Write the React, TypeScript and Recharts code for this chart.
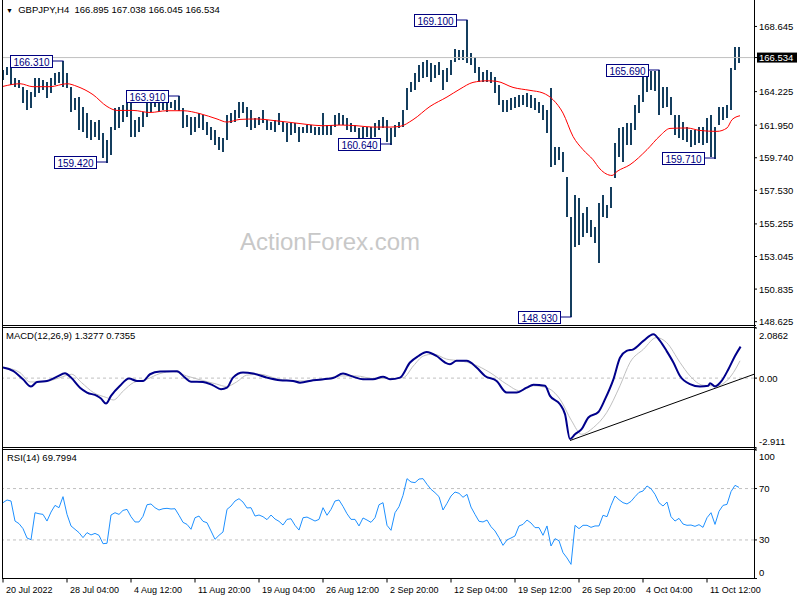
import React from 'react';
import { ComposedChart, Bar, Line, XAxis, YAxis, ReferenceLine, ReferenceDot } from 'recharts';

const FONT = "'Liberation Sans', Arial, sans-serif";
const X_DOMAIN: [number, number] = [0, 375.5];

// H4 bars, two bars merged per entry (high / low)
const barHigh = [
  165.71, 165.91, 166.05, 165.17, 165.03, 164.56, 164.35, 164.22, 165.17, 165.17,
  165.03, 164.9, 165.17, 165.51, 165.57, 166.31, 165.51, 164.56, 163.81, 163.88,
  163.2, 162.8, 162.32, 162.18, 162.32, 161.44, 160.96, 161.85, 163.13, 163.2,
  163.34, 163.54, 163.68, 162.32, 162.52, 162.86, 163.54, 163.85, 163.8, 163.75,
  163.78, 163.68, 163.54, 163.68, 163.91, 163.13, 162.66, 162.52, 162.52, 162.8,
  162.66, 162.18, 161.85, 161.64, 161.17, 161.1, 162.66, 162.8, 163.0, 163.54,
  163.54, 163.2, 163.0, 162.46, 162.52, 163.0, 162.32, 162.18, 162.32, 162.8,
  162.18, 162.12, 162.12, 162.12, 161.85, 161.85, 161.98, 161.98, 161.85, 161.85,
  162.8, 161.98, 161.98, 162.66, 162.8, 162.66, 162.46, 162.12, 161.98, 161.78,
  161.85, 161.85, 161.85, 162.12, 162.32, 162.52, 162.32, 161.78, 161.98, 162.18,
  163.0, 164.49, 164.9, 165.51, 166.05, 166.25, 166.39, 166.18, 166.05, 166.25,
  165.71, 165.85, 166.39, 167.13, 167.07, 167.07, 169.1, 166.86, 166.59, 165.91,
  165.57, 165.71, 165.57, 165.24, 164.69, 163.68, 163.68, 163.81, 163.88, 164.02,
  164.02, 164.15, 164.02, 163.81, 163.54, 163.34, 163.0, 164.49, 160.49, 160.49,
  160.15, 158.46, 155.74, 157.24, 157.03, 156.02, 156.42, 155.54, 155.07, 156.69,
  157.24, 156.56, 157.78, 160.76, 161.78, 161.85, 162.12, 162.12, 163.34, 164.02,
  165.51, 165.55, 165.62, 165.6, 165.69, 164.56, 164.56, 163.88, 162.66, 162.66,
  162.18, 161.85, 161.64, 161.64, 161.85, 161.85, 162.46, 162.66, 161.85, 163.2,
  163.2, 163.34, 165.85, 167.27, 167.27,
];
const barLow = [
  165.03, 165.37, 164.69, 164.56, 164.49, 163.47, 163.0, 163.13, 163.88, 164.15,
  164.35, 163.81, 164.15, 164.69, 164.83, 164.56, 164.49, 162.86, 163.0, 161.64,
  161.51, 161.1, 160.96, 161.17, 160.96, 159.74, 159.42, 159.95, 161.64, 161.78,
  162.18, 162.52, 161.17, 161.17, 161.51, 161.85, 162.52, 162.86, 163.2, 162.86,
  163.0, 162.86, 163.13, 163.0, 162.86, 161.78, 161.85, 161.3, 161.51, 161.78,
  161.64, 161.3, 160.96, 160.63, 160.29, 160.15, 160.96, 162.12, 162.18, 162.46,
  162.8, 161.85, 161.64, 161.78, 161.98, 162.12, 161.64, 161.64, 161.51, 161.98,
  161.51, 160.83, 161.3, 161.44, 160.83, 161.44, 161.44, 161.44, 161.3, 161.3,
  161.3, 161.3, 161.3, 161.85, 161.98, 161.98, 161.64, 161.51, 161.51, 160.96,
  161.1, 161.17, 161.1, 161.17, 161.64, 161.78, 160.83, 160.64, 161.17, 161.78,
  161.85, 163.0, 164.22, 164.35, 164.9, 165.17, 165.24, 164.9, 165.17, 165.37,
  164.35, 164.9, 165.37, 166.25, 166.39, 166.39, 166.18, 166.05, 165.51, 164.9,
  164.9, 164.9, 164.83, 164.15, 163.34, 162.86, 162.86, 163.0, 163.13, 163.2,
  163.34, 163.2, 163.13, 163.0, 162.8, 162.32, 161.44, 159.13, 159.27, 159.61,
  158.79, 155.74, 148.93, 153.71, 153.85, 154.39, 154.66, 154.39, 153.98, 152.63,
  155.74, 155.68, 156.35, 158.4, 159.81, 159.47, 160.63, 160.63, 161.64, 162.8,
  163.54, 164.22, 164.35, 164.22, 162.66, 163.13, 163.2, 162.66, 161.3, 161.1,
  160.96, 160.83, 160.49, 160.63, 160.76, 160.63, 160.76, 159.81, 159.71, 161.98,
  162.32, 162.46, 163.0, 165.71, 166.18,
];
const rsiValues = [
  59.0, 61.1, 60.3, 44.7, 42.7, 38.8, 31.5, 30.2, 51.2, 50.4,
  49.9, 44.7, 51.7, 56.9, 55.1, 63.7, 49.9, 40.9, 38.3, 35.7,
  31.8, 35.7, 33.9, 35.1, 33.6, 27.1, 27.4, 49.4, 51.2, 49.9,
  53.0, 53.8, 48.1, 44.0, 44.0, 48.4, 57.4, 58.0, 55.1, 53.3,
  54.3, 54.6, 54.1, 54.3, 49.2, 43.7, 42.1, 38.3, 47.3, 48.6,
  44.5, 43.4, 37.0, 30.5, 33.6, 36.2, 53.8, 56.4, 60.3, 62.1,
  59.5, 54.9, 55.1, 48.6, 49.4, 48.1, 45.8, 49.4, 46.3, 44.5,
  41.6, 46.0, 46.5, 41.4, 37.7, 47.3, 47.8, 46.3, 44.7, 46.0,
  55.1, 49.2, 53.8, 60.3, 61.1, 56.1, 50.4, 46.0, 46.0, 40.9,
  47.1, 45.5, 43.7, 47.3, 57.4, 59.0, 41.4, 37.5, 51.2, 55.9,
  64.7, 77.7, 75.1, 74.6, 77.4, 77.7, 73.3, 69.4, 66.8, 63.7,
  53.3, 58.5, 64.2, 67.3, 66.3, 63.2, 65.5, 55.6, 49.9, 44.5,
  44.0, 45.5, 40.3, 37.0, 31.8, 25.8, 30.0, 31.5, 33.1, 40.9,
  42.1, 45.5, 43.2, 39.6, 39.6, 33.6, 40.9, 25.3, 31.0, 29.4,
  20.1, 16.0, 11.0, 41.4, 38.8, 41.4, 41.4, 39.8, 40.9, 40.9,
  49.2, 48.1, 56.9, 64.2, 61.3, 59.0, 58.0, 60.0, 63.7, 67.0,
  68.1, 72.0, 69.9, 65.5, 59.0, 56.4, 59.5, 48.1, 44.7, 46.8,
  42.4, 41.4, 41.6, 40.6, 41.9, 39.8, 47.3, 51.2, 42.1, 52.3,
  56.9, 57.7, 67.6, 72.5, 70.9,
];

// moving average (red)
const maIndex = [0, 8.5, 15, 23.5, 32, 37, 45, 52, 57, 65, 73.5, 82, 90, 98.5, 107, 112, 118.5, 127, 135, 143.5, 152, 160, 168.5, 177, 185, 193.5, 198.5, 205, 213.5, 222, 228.5, 235, 242, 247, 255, 263.5, 270, 275, 280, 285, 290, 295, 298.5, 304.5, 307, 313.5, 322, 328.5, 333.5, 342, 348.5, 357, 362, 364.5, 368.5];
const maValues = [164.58, 164.76, 164.56, 164.56, 164.76, 164.58, 164.02, 163.22, 162.95, 162.95, 162.81, 162.93, 162.93, 162.73, 162.37, 162.16, 162.34, 162.37, 162.27, 162.14, 162.0, 161.91, 161.96, 161.91, 161.82, 161.82, 161.87, 162.32, 163.22, 163.86, 164.4, 164.85, 164.96, 164.92, 164.51, 164.31, 164.13, 163.68, 162.77, 161.19, 160.29, 159.61, 158.98, 158.54, 158.81, 159.27, 160.29, 161.23, 161.73, 161.76, 161.59, 161.53, 161.76, 162.32, 162.59];

// MACD(12,26,9)
const macdIndex = [0, 5, 10, 14, 17, 22, 27, 31, 34, 38.5, 42, 47, 49, 51.5, 54, 58.5, 63, 67, 70, 73.5, 78.5, 87, 91, 94, 100, 105, 109, 112, 115, 120, 125, 132, 138.5, 145, 148.5, 155, 165, 170, 175, 180, 185, 190, 193.5, 198.5, 203.5, 207.7, 211.8, 216.8, 221, 223.5, 226.8, 231.8, 236.8, 241, 246.8, 251.8, 256.8, 261.8, 265.2, 271, 273.5, 278.5, 281, 283.5, 286, 289.3, 292.7, 297.7, 301, 305.2, 308.5, 311.8, 315.2, 320.2, 325.2, 328.5, 331.8, 335.2, 338.5, 343.5, 348.5, 352.7, 353.5, 356, 359.3, 362.7, 366, 368.8];
const macdValues = [0.44, 0.3, -0.05, -0.35, -0.16, -0.12, 0.06, 0.2, 0.02, -0.4, -0.6, -0.74, -0.85, -1.06, -0.74, -0.32, -0.02, -0.12, -0.12, 0.16, 0.27, 0.29, 0.02, -0.15, -0.16, -0.3, -0.46, -0.4, 0.02, 0.23, 0.19, 0.02, -0.09, -0.12, -0.19, -0.09, 0.0, 0.19, 0.06, -0.05, -0.05, 0.06, -0.05, 0.02, 0.65, 0.92, 1.09, 0.92, 0.65, 0.58, 0.72, 0.72, 0.44, 0.09, -0.12, -0.6, -0.6, -0.4, -0.28, -0.32, -0.74, -1.09, -1.5, -2.54, -2.34, -2.13, -1.64, -1.41, -0.88, -0.05, 0.85, 1.13, 1.2, 1.55, 1.83, 1.55, 1.13, 0.65, 0.09, -0.25, -0.35, -0.32, -0.21, -0.35, -0.12, 0.37, 0.92, 1.31];
const signalIndex = [0, 8.5, 13.5, 20, 28.5, 34.3, 39.3, 45.2, 51.8, 55.2, 60.2, 65.2, 71.8, 78.5, 85.2, 91.8, 98.5, 106.8, 111.8, 116.8, 121.8, 128.5, 136.8, 148.5, 158.5, 168.5, 176.8, 185.2, 193.5, 200.2, 205.2, 210.2, 215.2, 221.8, 228.5, 235.2, 243.5, 251.8, 258.5, 265.2, 271.8, 278.5, 284.3, 289.3, 295.2, 301.8, 308.5, 313.5, 320.2, 326.8, 331.8, 338.5, 343.5, 350.2, 356.8, 361.8, 365.2, 368.5];
const signalValues = [0.45, 0.23, -0.16, -0.16, 0.02, 0.16, -0.19, -0.6, -0.81, -0.91, -0.53, -0.19, -0.05, 0.19, 0.27, 0.09, -0.07, -0.25, -0.35, -0.16, 0.12, 0.16, -0.02, -0.12, -0.09, 0.09, 0.09, -0.02, -0.02, 0.02, 0.51, 0.92, 1.0, 0.79, 0.72, 0.58, 0.23, -0.25, -0.53, -0.32, -0.4, -0.88, -1.78, -2.34, -2.06, -1.44, -0.32, 0.65, 1.2, 1.69, 1.48, 0.65, 0.09, -0.3, -0.32, -0.12, 0.23, 0.72];
const trendFrom = { i: 283.5, v: -2.6 };
const trendTo = { i: 375.5, v: 0.16 };

// axes
const priceTicks = [148.625, 150.835, 153.045, 155.255, 157.53, 159.74, 161.95, 164.225, 166.534, 168.645];
const lastPrice = 166.534;
const macdTicks = [-2.911, 0, 2.0862];
const macdTickLabels = ['-2.911', '0.00', '2.0862'];
const rsiTicks = [0, 30, 70, 100];
const dateTicks = [0, 32, 64, 96, 128, 160, 192, 224, 256, 288, 320, 352];
const dateLabels = ['20 Jul 2022', '28 Jul 04:00', '4 Aug 12:00', '11 Aug 20:00', '19 Aug 04:00', '26 Aug 12:00', '2 Sep 20:00', '12 Sep 04:00', '19 Sep 12:00', '26 Sep 20:00', '4 Oct 04:00', '11 Oct 12:00'];

// swing high / low labels
const swingIndex = [30, 52, 88, 194, 232, 284, 328, 356];
const swingPrice = [166.31, 159.42, 163.91, 160.64, 169.1, 148.93, 165.69, 159.71];

const priceData = barHigh.map((h, k) => ({ i: k * 2, range: [barLow[k], h], rsi: rsiValues[k] }));
const maData = maIndex.map((i, n) => ({ i, v: maValues[n] }));
const macdData = macdIndex.map((i, n) => ({ i, v: macdValues[n] }));
const signalData = signalIndex.map((i, n) => ({ i, v: signalValues[n] }));

const BAR_COLOR = '#143e5e';

// crisp high-low stick, snapped to whole pixels
const HlBar = ({ x, y, width, height }: any) => {
  if (height == null || isNaN(height)) return null;
  const cx = Math.round(x + width / 2);
  return <rect x={cx - 1} y={Math.round(y)} width={2} height={Math.max(1, Math.round(height))} fill={BAR_COLOR} />;
};

const PriceTick = ({ x, y, payload }: any) => {
  const txt = payload.value.toFixed(3);
  if (payload.value === lastPrice) {
    return (
      <g>
        <rect x={x - 2} y={y - 5} width={40} height={10} fill="#000" />
        <text x={x} y={y + 3.5} fontSize={9.5} fontFamily={FONT} fill="#fff">{txt}</text>
      </g>
    );
  }
  return <text x={x} y={y + 3.5} fontSize={9.5} fontFamily={FONT} fill="#000">{txt}</text>;
};

const MacdTick = ({ x, y, payload }: any) => {
  const n = macdTicks.indexOf(payload.value);
  const shift = n === 2 ? 7 : n === 0 ? -7 : 0;
  return <text x={x} y={y + 3.5 + shift} fontSize={9.5} fontFamily={FONT} fill="#000">{macdTickLabels[n]}</text>;
};

const RsiTick = ({ x, y, payload }: any) => {
  const shift = payload.value === 100 ? 6 : payload.value === 0 ? -6 : 0;
  return <text x={x} y={y + 3.5 + shift} fontSize={9.5} fontFamily={FONT} fill="#000">{payload.value}</text>;
};

const DateTick = ({ x, y, payload }: any) => (
  <text x={x + 3} y={y + 8} fontSize={9} fontFamily={FONT} fill="#000">
    {dateLabels[dateTicks.indexOf(payload.value)]}
  </text>
);

const SwingLabel = ({ cx, cy, text }: any) => {
  const bx = Math.round(cx) - 52.5;
  const by = Math.round(cy) - 5.5;
  return (
    <g>
      <line x1={bx + 42} y1={by + 5.5} x2={Math.round(cx) + 0.5} y2={by + 5.5} stroke="#000080" />
      <rect x={bx} y={by} width={42} height={12} fill="#fff" stroke="#000080" />
      <text x={bx + 21} y={by + 10} textAnchor="middle" fontSize={10} fontFamily={FONT} fill="#000080">{text}</text>
    </g>
  );
};

const line = (style: React.CSSProperties) => (
  <div style={{ position: 'absolute', background: '#000', ...style }} />
);

const App = () => {
  return (
    <div style={{ position: 'absolute', left: 0, top: 0, width: 800, height: 600, background: '#fff', overflow: 'hidden' }}>
      <div style={{ position: 'absolute', left: 0, top: 0 }}>
        <ComposedChart width={800} height={326} data={priceData} margin={{ top: 1, right: 0, bottom: 1, left: 3 }}>
          <XAxis type="number" dataKey="i" domain={X_DOMAIN} allowDataOverflow hide />
          <YAxis
            orientation="right"
            type="number"
            width={46}
            domain={[148.4, 170.37]}
            allowDataOverflow
            ticks={priceTicks}
            interval={0}
            axisLine={false}
            tickLine={{ stroke: '#000' }}
            tickSize={3}
            tickMargin={2}
            tick={<PriceTick />}
          />
          <ReferenceLine y={lastPrice} stroke="#c0c0c0" />
          <Bar dataKey="range" fill={BAR_COLOR} barSize={2} shape={<HlBar />} isAnimationActive={false} />
          <Line data={maData} dataKey="v" type="monotone" stroke="#ff0000" strokeWidth={1} dot={false} isAnimationActive={false} />
          {swingIndex.map((si, n) => (
            <ReferenceDot
              key={si}
              x={si}
              y={swingPrice[n]}
              r={0}
              ifOverflow="visible"
              shape={(p: any) => <SwingLabel {...p} text={swingPrice[n].toFixed(3)} />}
            />
          ))}
        </ComposedChart>
      </div>

      <div style={{ position: 'absolute', left: 0, top: 327 }}>
        <ComposedChart width={800} height={122} margin={{ top: 1, right: 0, bottom: 1, left: 3 }}>
          <XAxis type="number" dataKey="i" domain={X_DOMAIN} allowDataOverflow hide />
          <YAxis
            orientation="right"
            type="number"
            width={46}
            domain={[-2.911, 2.0862]}
            allowDataOverflow
            ticks={macdTicks}
            interval={0}
            axisLine={false}
            tickLine={{ stroke: '#000' }}
            tickSize={3}
            tickMargin={2}
            tick={<MacdTick />}
          />
          <ReferenceLine y={0} stroke="#c0c0c0" strokeDasharray="3 3" />
          <Line data={signalData} dataKey="v" type="monotone" stroke="#c0c0c0" strokeWidth={1} dot={false} isAnimationActive={false} />
          <Line data={macdData} dataKey="v" type="monotone" stroke="#00008b" strokeWidth={2} dot={false} isAnimationActive={false} />
          <ReferenceLine
            segment={[{ x: trendFrom.i, y: trendFrom.v }, { x: trendTo.i, y: trendTo.v }]}
            stroke="#000"
            ifOverflow="visible"
          />
        </ComposedChart>
      </div>

      <div style={{ position: 'absolute', left: 0, top: 447 }}>
        <ComposedChart width={800} height={153} data={priceData} margin={{ top: 3, right: 0, bottom: 0, left: 3 }}>
          <XAxis
            type="number"
            dataKey="i"
            domain={X_DOMAIN}
            allowDataOverflow
            ticks={dateTicks}
            interval={0}
            height={21.5}
            axisLine={false}
            tickLine={{ stroke: '#000' }}
            tickSize={4}
            tickMargin={2}
            tick={<DateTick />}
          />
          <YAxis
            orientation="right"
            type="number"
            width={46}
            domain={[0, 100]}
            allowDataOverflow
            ticks={rsiTicks}
            interval={0}
            axisLine={false}
            tickLine={{ stroke: '#000' }}
            tickSize={3}
            tickMargin={2}
            tick={<RsiTick />}
          />
          <ReferenceLine y={70} stroke="#c0c0c0" strokeDasharray="3 3" />
          <ReferenceLine y={30} stroke="#c0c0c0" strokeDasharray="3 3" />
          <Line dataKey="rsi" type="linear" stroke="#1e90ff" strokeWidth={1} dot={false} isAnimationActive={false} />
        </ComposedChart>
      </div>

      {/* panel frames */}
      {line({ left: 2, top: 0, width: 1, height: 579 })}
      {line({ left: 754, top: 0, width: 1, height: 579 })}
      {line({ left: 2, top: 325, width: 754, height: 1 })}
      {line({ left: 2, top: 327, width: 754, height: 1 })}
      {line({ left: 2, top: 447, width: 754, height: 1 })}
      {line({ left: 2, top: 449, width: 754, height: 1 })}
      {line({ left: 2, top: 578, width: 754, height: 1 })}

      <div style={{ position: 'absolute', left: 6, top: 4, fontFamily: FONT, fontSize: 9.5, whiteSpace: 'pre', color: '#000' }}>
        <span style={{ fontSize: 7 }}>▼</span>{'  GBPJPY,H4  166.895 167.038 166.045 166.534'}
      </div>
      <div style={{ position: 'absolute', left: 6, top: 330, fontFamily: FONT, fontSize: 9.5, color: '#000' }}>
        MACD(12,26,9) 1.3277 0.7355
      </div>
      <div style={{ position: 'absolute', left: 7, top: 452, fontFamily: FONT, fontSize: 9.5, color: '#000' }}>
        RSI(14) 69.7994
      </div>
      <div style={{ position: 'absolute', left: 240, top: 228, fontFamily: FONT, fontSize: 24, color: '#c8c8c8' }}>
        ActionForex.com
      </div>
    </div>
  );
};

export default App;
